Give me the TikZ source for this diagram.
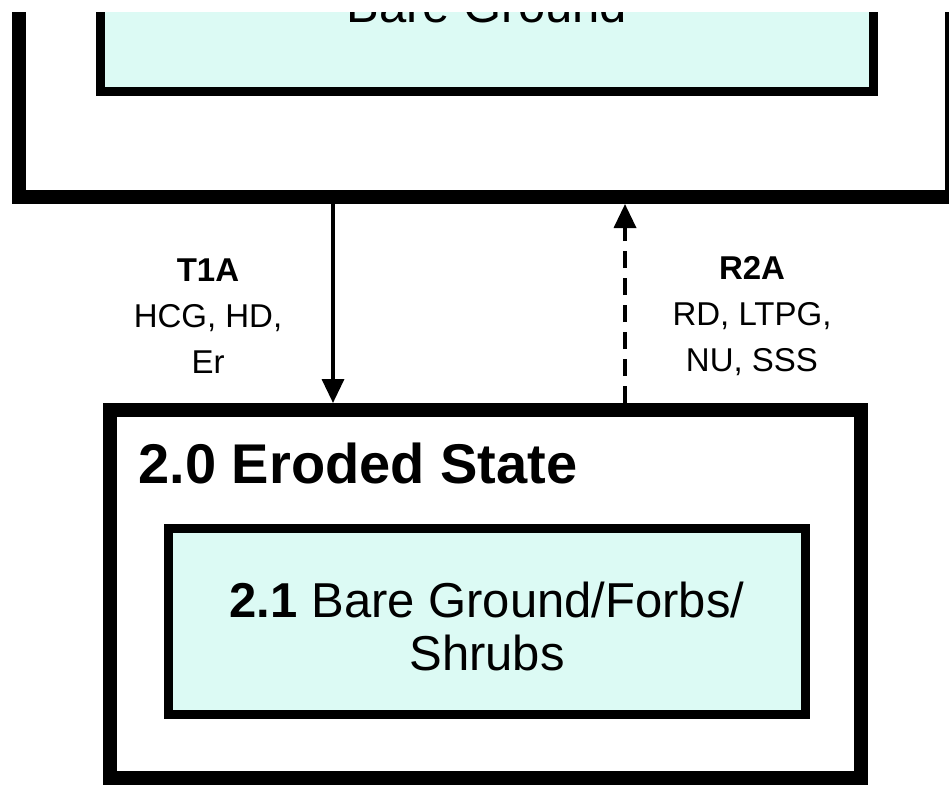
\documentclass[tikz,border=0pt]{standalone}
\usepackage{fontspec}
\setmainfont{Liberation Sans}
\usepackage{tikz}
\usetikzlibrary{arrows.meta}
\usepackage{xcolor}
\definecolor{boxcyan}{RGB}{220,250,244}

\begin{document}
\begin{tikzpicture}[
    x=1pt, y=-1pt,
    Obox/.style={draw=black, line width=14pt, inner sep=0pt},
    Ibox/.style={draw=black, fill=boxcyan, line width=9pt, inner sep=0pt},
    Ttl/.style={font=\fontsize{56}{60}\selectfont\bfseries},
    Blbl/.style={font=\fontsize{49}{53}\selectfont, align=center},
    txt/.style={font=\fontsize{33}{46}\selectfont, align=center},
    arr/.style={-{Triangle[length=24pt, width=22pt]}, line width=3.5pt},
    darr/.style={arr, dash pattern=on 17pt off 10pt},
]
\fill[white] (0,0) rectangle (949,790);
\useasboundingbox (0,0) rectangle (949,790);
\clip (0,12) rectangle (949,790);
\node[Obox, minimum width=933pt, minimum height=497pt] (s1) at (485.5,-51.5) {};
\node[Ibox, minimum width=773pt, minimum height=291pt] (b1) at (486.5,-54.5) {};
\node[Blbl, anchor=base] (b1txt) at (487,22) {Bare Ground};
\node[Obox, minimum width=751pt, minimum height=368pt] (s2) at (485.5,594) {};
\node[Ttl, anchor=base west] (s2ttl) at (135,483) {2.0 Eroded State};
\node[Ibox, minimum width=637pt, minimum height=186pt] (b2) at (486.5,621) {};
\node[Blbl] (b2txt) at (487,626) {\textbf{2.1} Bare Ground/Forbs/\\Shrubs};
\coordinate (t1x) at (333,0);
\coordinate (r2x) at (625,0);
\draw[arr] (s1.south -| t1x) -- (s2.north -| t1x);
\draw[darr] (s2.north -| r2x) -- (s1.south -| r2x);
\node[txt] (t1a) at (208,316) {\textbf{T1A}\\HCG, HD,\\Er};
\node[txt] (r2a) at (752,316) {\textbf{R2A}\\RD, LTPG,\\NU, SSS};
\end{tikzpicture}
\end{document}
